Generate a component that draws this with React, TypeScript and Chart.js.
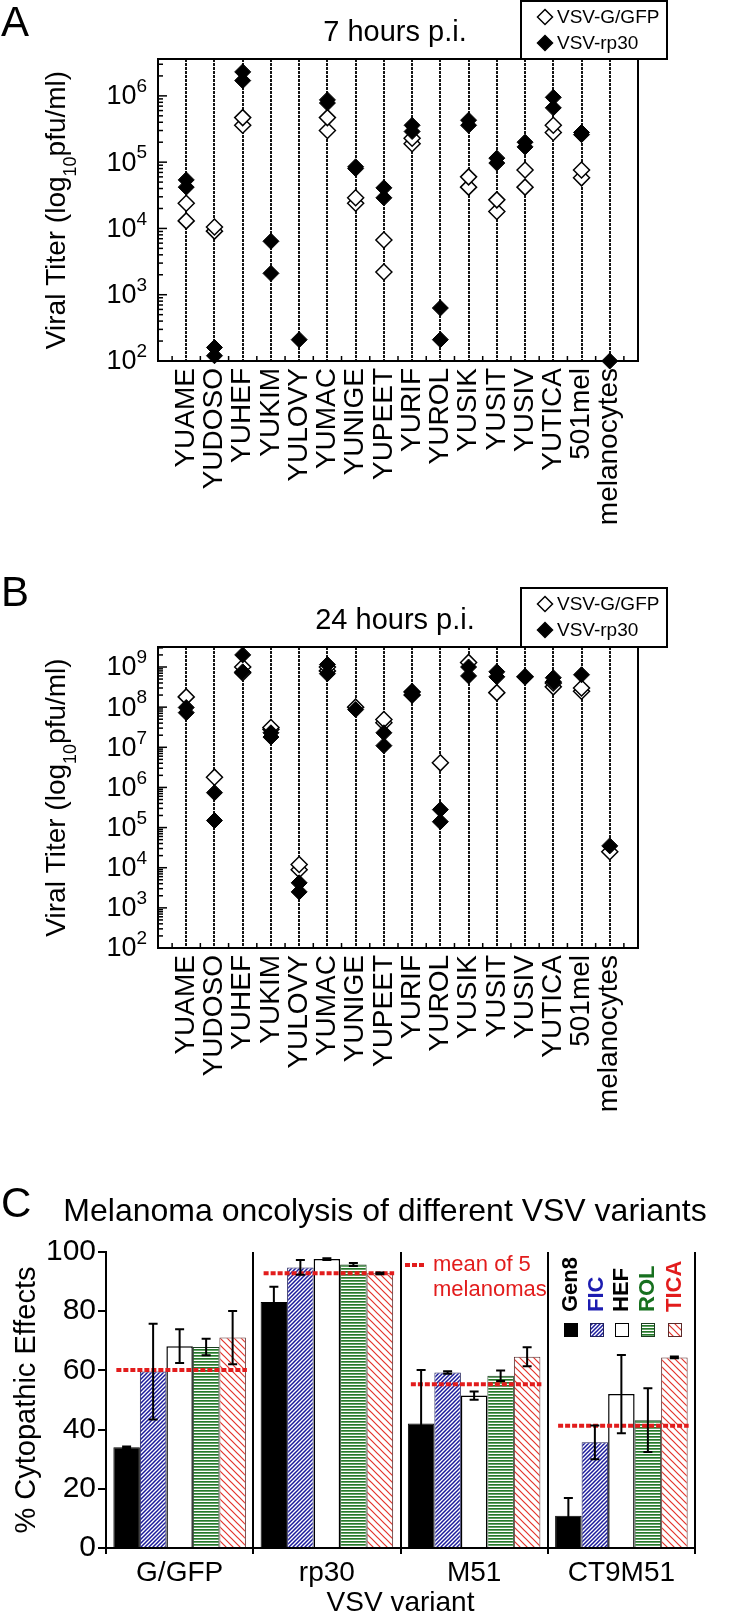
import React, { useEffect, useRef } from 'react';
import { Chart, registerables } from 'chart.js';

Chart.register(...registerables);

const FONT = '"Liberation Sans", Arial, Helvetica, sans-serif';
const RED = 'rgb(226, 28, 28)';

// ---------- Panels A & B ----------
const cellLines = ['YUAME', 'YUDOSO', 'YUHEF', 'YUKIM', 'YULOVY', 'YUMAC', 'YUNIGE', 'YUPEET', 'YURIF', 'YUROL', 'YUSIK', 'YUSIT', 'YUSIV', 'YUTICA', '501mel', 'melanocytes'];

const tickExpA = [2, 3, 4, 5, 6];
const tickExpB = [2, 3, 4, 5, 6, 7, 8, 9];

// 7 hours p.i. (two replicates per virus)
const gfp7a = [2.4e4, 1.05e4, 4.7e5, null, null, 4.7e5, 2.9e4, 6.7e3, 2.3e5, null, 6.0e4, 2.7e4, 7.6e4, 3.6e5, 7.6e4, null];
const gfp7b = [1.3e4, 9.1e3, 3.6e5, null, null, 3.0e5, 2.4e4, 2.2e3, 1.9e5, null, 4.2e4, 1.8e4, 4.2e4, 2.8e5, 5.8e4, null];
const rp7a = [5.4e4, 1.6e2, 2.3e6, 6.4e3, 2.1e2, 8.7e5, 8.5e4, 4.1e4, 3.6e5, 6.3e2, 4.3e5, 1.15e5, 2.0e5, 9.5e5, 2.8e5, 1.0e2];
const rp7b = [4.2e4, 1.2e2, 1.7e6, 2.1e3, null, 7.8e5, 8.0e4, 2.9e4, 2.9e5, 2.1e2, 3.6e5, 9.7e4, 1.7e5, 6.6e5, 2.6e5, null];

// 24 hours p.i.
const gfp24a = [1.8e8, 1.8e6, 1.0e9, 3.1e7, 1.2e4, 1.0e9, 1.0e8, 4.9e7, 2.4e8, 4.1e6, 1.3e9, 2.3e8, 5.7e8, 4.0e8, 3.0e8, 2.5e4];
const gfp24b = [null, null, 7.2e8, 2.8e7, 8.9e3, 8.0e8, null, 4.1e7, 2.0e8, null, null, null, null, 3.2e8, 2.5e8, null];
const rp24a = [9.8e7, 7.4e5, 2.0e9, 2.3e7, 4.2e3, 1.15e9, 8.7e7, 2.3e7, 2.4e8, 2.8e5, 1.0e9, 7.6e8, 5.7e8, 5.4e8, 6.4e8, 3.5e4];
const rp24b = [7.3e7, 1.5e5, 7.6e8, 1.8e7, 2.5e3, 6.8e8, null, 1.1e7, 2.0e8, 1.4e5, 6.0e8, 5.7e8, null, 4.3e8, null, null];

// ---------- Panel C ----------
const variants = ['G/GFP', 'rp30', 'M51', 'CT9M51'];
const melanomas = ['Gen8', 'FIC', 'HEF', 'ROL', 'TICA'];
const gen8 = [34.0, 83.1, 42.1, 10.9];
const fic = [59.6, 94.8, 59.3, 35.7];
const hef = [68.2, 97.6, 51.5, 52.0];
const rol = [67.9, 95.8, 58.2, 43.2];
const tica = [71.1, 92.8, 64.6, 64.4];
const gen8Err = [0.3, 5.2, 18.0, 6.0];
const ficErr = [16.2, 2.5, 0.4, 5.7];
const hefErr = [5.7, 0.3, 1.4, 13.2];
const rolErr = [2.8, 0.5, 1.8, 10.8];
const ticaErr = [9.0, 0.3, 3.2, 0.3];
const meanOf5 = [60.1, 92.8, 55.3, 41.3];
const yTicksC = [0, 20, 40, 60, 80, 100];

const legendTextColors = ['#000', '#1c1cb0', '#000', '#17701f', RED];

function diamond(ctx: CanvasRenderingContext2D, x: number, y: number, r: number, filled: boolean) {
  ctx.beginPath();
  ctx.moveTo(x, y - r);
  ctx.lineTo(x + r, y);
  ctx.lineTo(x, y + r);
  ctx.lineTo(x - r, y);
  ctx.closePath();
  ctx.fillStyle = filled ? '#000' : '#fff';
  ctx.fill();
  ctx.lineWidth = 1.5;
  ctx.strokeStyle = '#000';
  ctx.stroke();
}

type TiterProps = {
  top: number;
  height: number;
  plotTop: number;
  plotBottom: number;
  legendTop: number;
  letter: string;
  letterBase: number;
  title: string;
  maxVal: number;
  tickExp: number[];
  gfpA: (number | null)[];
  gfpB: (number | null)[];
  rpA: (number | null)[];
  rpB: (number | null)[];
};

function TiterPanel(p: TiterProps) {
  const ref = useRef<HTMLCanvasElement>(null);
  useEffect(() => {
    const canvas = ref.current!;
    const XH = 170;
    const pts = (arr: (number | null)[]) =>
      arr.map((v, i) => (v == null ? null : { x: i, y: v })).filter(Boolean) as { x: number; y: number }[];

    const overlay = {
      id: 'titerOverlay',
      beforeDatasetsDraw(chart: any) {
        const { ctx, chartArea: a, scales } = chart;
        const x = scales.x;
        ctx.save();
        ctx.strokeStyle = '#151515';
        ctx.lineWidth = 2;
        ctx.setLineDash([3, 1]);
        cellLines.forEach((_, i) => {
          const px = Math.round(x.getPixelForValue(i));
          ctx.beginPath();
          ctx.moveTo(px, a.top);
          ctx.lineTo(px, a.bottom);
          ctx.stroke();
        });
        ctx.restore();
      },
      afterDraw(chart: any) {
        const { ctx, chartArea: a, scales } = chart;
        const x = scales.x;
        const y = scales.y;
        ctx.save();
        // box
        ctx.strokeStyle = '#000';
        ctx.lineWidth = 2;
        ctx.strokeRect(a.left, a.top, a.right - a.left, a.bottom - a.top);
        // inward y ticks (major + minor)
        ctx.lineWidth = 1.5;
        const maxE = p.tickExp[p.tickExp.length - 1];
        for (let e = p.tickExp[0]; e <= maxE; e++) {
          for (let m = 1; m <= 9; m++) {
            const v = m * Math.pow(10, e);
            if (v > p.maxVal) break;
            const py = y.getPixelForValue(v);
            const len = m === 1 ? 9 : 5;
            ctx.beginPath();
            ctx.moveTo(a.left, py);
            ctx.lineTo(a.left + len, py);
            ctx.stroke();
          }
        }
        // inward x ticks at category boundaries
        for (let i = -1; i < cellLines.length; i++) {
          const px = x.getPixelForValue(i + 0.5);
          ctx.beginPath();
          ctx.moveTo(px, a.bottom);
          ctx.lineTo(px, a.bottom - 5);
          ctx.stroke();
        }
        // y tick labels 10^n
        ctx.fillStyle = '#000';
        ctx.textBaseline = 'middle';
        p.tickExp.forEach((e) => {
          const py = y.getPixelForValue(Math.pow(10, e));
          const right = a.left - 11;
          ctx.font = `19px ${FONT}`;
          const sw = ctx.measureText(String(e)).width;
          ctx.textAlign = 'left';
          ctx.fillText(String(e), right - sw, py - 9);
          ctx.font = `27px ${FONT}`;
          ctx.textAlign = 'right';
          ctx.fillText('10', right - sw, py + 1);
        });
        // y title with subscript
        ctx.save();
        ctx.translate(55, (a.top + a.bottom) / 2);
        ctx.rotate(-Math.PI / 2);
        const f1 = `28px ${FONT}`;
        const f2 = `18px ${FONT}`;
        const s1 = 'Viral Titer (log';
        const s2 = '10';
        const s3 = 'pfu/ml)';
        ctx.font = f1;
        const w1 = ctx.measureText(s1).width;
        const w3 = ctx.measureText(s3).width;
        ctx.font = f2;
        const w2 = ctx.measureText(s2).width;
        let xx = -(w1 + w2 + w3) / 2;
        ctx.textAlign = 'left';
        ctx.textBaseline = 'alphabetic';
        ctx.font = f1;
        ctx.fillText(s1, xx, 10);
        xx += w1;
        ctx.font = f2;
        ctx.fillText(s2, xx, 21);
        xx += w2;
        ctx.font = f1;
        ctx.fillText(s3, xx, 10);
        ctx.restore();
        // panel letter
        ctx.font = `42px ${FONT}`;
        ctx.textAlign = 'left';
        ctx.textBaseline = 'alphabetic';
        ctx.fillText(p.letter, 1, p.letterBase);
        // title
        ctx.font = `29px ${FONT}`;
        ctx.textAlign = 'center';
        ctx.textBaseline = 'middle';
        ctx.fillText(p.title, 395, a.top - 26);
        // legend
        const lt = p.legendTop;
        const lw = 146;
        ctx.fillStyle = '#fff';
        ctx.fillRect(521, lt, lw, a.top - lt);
        ctx.strokeStyle = '#000';
        ctx.lineWidth = 2;
        ctx.strokeRect(521, lt, lw, a.top - lt);
        diamond(ctx, 545, lt + 16, 7.5, false);
        diamond(ctx, 545, lt + 42, 7.5, true);
        ctx.fillStyle = '#000';
        ctx.font = `19px ${FONT}`;
        ctx.textAlign = 'left';
        ctx.textBaseline = 'middle';
        ctx.fillText('VSV-G/GFP', 557, lt + 17);
        ctx.fillText('VSV-rp30', 557, lt + 43);
        ctx.restore();
      },
    };

    const filled = { pointStyle: 'rectRot', pointRadius: 8, backgroundColor: '#000', borderColor: '#000', borderWidth: 1, clip: false as any };
    const open = { pointStyle: 'rectRot', pointRadius: 8, backgroundColor: '#fff', borderColor: '#000', borderWidth: 1.5, clip: false as any };

    const chart = new Chart(canvas, {
      type: 'scatter',
      data: {
        datasets: [
          { label: 'VSV-rp30', data: pts(p.rpA), ...filled },
          { label: 'VSV-rp30', data: pts(p.rpB), ...filled },
          { label: 'VSV-G/GFP', data: pts(p.gfpA), ...open },
          { label: 'VSV-G/GFP', data: pts(p.gfpB), ...open },
        ] as any,
      },
      options: {
        responsive: false,
        maintainAspectRatio: false,
        animation: false,
        devicePixelRatio: 1,
        layout: { padding: { left: 0, top: p.plotTop, right: 112, bottom: p.height - p.plotBottom - XH } },
        plugins: { legend: { display: false }, tooltip: { enabled: false }, title: { display: false } },
        scales: {
          x: {
            type: 'linear',
            min: -1,
            max: cellLines.length,
            afterBuildTicks: (s: any) => {
              s.ticks = cellLines.map((_, i) => ({ value: i }));
            },
            afterFit: (s: any) => {
              s.height = XH;
            },
            grid: { display: false, drawTicks: false },
            border: { display: false },
            ticks: {
              autoSkip: false,
              minRotation: 90,
              maxRotation: 90,
              padding: 7,
              color: '#000',
              font: { family: FONT, size: 28 },
              callback: (_v: any, i: number) => cellLines[i],
            },
          },
          y: {
            type: 'logarithmic',
            min: 100,
            max: p.maxVal,
            afterBuildTicks: (s: any) => {
              s.ticks = p.tickExp.map((e) => ({ value: Math.pow(10, e) }));
            },
            afterFit: (s: any) => {
              s.width = 158;
            },
            grid: { display: false, drawTicks: false },
            border: { display: false },
            ticks: { display: false },
          },
        },
      } as any,
      plugins: [overlay],
    });
    return () => chart.destroy();
  }, []);
  return (
    <canvas
      ref={ref}
      width={750}
      height={p.height}
      style={{ position: 'absolute', left: 0, top: p.top, width: 750, height: p.height, display: 'block' }}
    />
  );
}

function makePattern(kind: string): CanvasPattern | string {
  const c = document.createElement('canvas');
  const g = c.getContext('2d')!;
  if (kind === 'blue') {
    c.width = 4;
    c.height = 4;
    g.fillStyle = '#fff';
    g.fillRect(0, 0, 4, 4);
    g.strokeStyle = '#1c1c9c';
    g.lineWidth = 1.5;
    g.beginPath();
    g.moveTo(-1, 5);
    g.lineTo(5, -1);
    g.moveTo(-1, 1);
    g.lineTo(1, -1);
    g.moveTo(3, 5);
    g.lineTo(5, 3);
    g.stroke();
  } else if (kind === 'green') {
    c.width = 4;
    c.height = 3;
    g.fillStyle = '#fff';
    g.fillRect(0, 0, 4, 3);
    g.fillStyle = '#257a2a';
    g.fillRect(0, 0, 4, 1.7);
  } else if (kind === 'red') {
    c.width = 7;
    c.height = 7;
    g.fillStyle = '#fff';
    g.fillRect(0, 0, 7, 7);
    g.strokeStyle = '#e3342c';
    g.lineWidth = 1.2;
    g.beginPath();
    g.moveTo(-1, -1);
    g.lineTo(8, 8);
    g.moveTo(-1, 6);
    g.lineTo(1, 8);
    g.moveTo(6, -1);
    g.lineTo(8, 1);
    g.stroke();
  } else if (kind === 'black') {
    return '#000';
  } else {
    return '#fff';
  }
  return g.createPattern(c, 'repeat')!;
}

function PanelC() {
  const ref = useRef<HTMLCanvasElement>(null);
  useEffect(() => {
    const canvas = ref.current!;
    const H = 455;
    const chartTop = 92;
    const chartBottom = 388;
    const values = [gen8, fic, hef, rol, tica];
    const errs = [gen8Err, ficErr, hefErr, rolErr, ticaErr];
    const kinds = ['black', 'blue', 'white', 'green', 'red'];
    const fills = kinds.map(makePattern);
    const borders = ['#000', '#20205a', '#000', '#1b3d1f', '#5a2a2a'];
    const bw = [1, 1, 1.5, 1, 1];

    const overlay = {
      id: 'cOverlay',
      afterDatasetsDraw(chart: any) {
        const { ctx, scales } = chart;
        const y = scales.y;
        ctx.save();
        // mean lines
        ctx.strokeStyle = RED;
        ctx.lineWidth = 4;
        ctx.setLineDash([5, 2]);
        variants.forEach((_, j) => {
          const first = chart.getDatasetMeta(0).data[j];
          const last = chart.getDatasetMeta(4).data[j];
          const x1 = first.x - first.width / 2 + 3;
          const x2 = last.x + last.width / 2 + 1;
          const py = y.getPixelForValue(meanOf5[j]);
          ctx.beginPath();
          ctx.moveTo(x1, py);
          ctx.lineTo(x2, py);
          ctx.stroke();
        });
        ctx.setLineDash([]);
        // error bars
        ctx.strokeStyle = '#000';
        ctx.lineWidth = 2;
        values.forEach((vals, k) => {
          const meta = chart.getDatasetMeta(k);
          vals.forEach((v, j) => {
            const el = meta.data[j];
            const e = errs[k][j];
            const yt = y.getPixelForValue(v + e);
            const yb = y.getPixelForValue(v - e);
            const cx = el.x;
            ctx.beginPath();
            ctx.moveTo(cx, yt);
            ctx.lineTo(cx, yb);
            ctx.moveTo(cx - 4.5, yt);
            ctx.lineTo(cx + 4.5, yt);
            ctx.moveTo(cx - 4.5, yb);
            ctx.lineTo(cx + 4.5, yb);
            ctx.stroke();
          });
        });
        ctx.restore();
      },
      afterDraw(chart: any) {
        const { ctx } = chart;
        ctx.save();
        // letter & title
        ctx.fillStyle = '#000';
        ctx.font = `42px ${FONT}`;
        ctx.textAlign = 'left';
        ctx.textBaseline = 'alphabetic';
        ctx.fillText('C', 1, 57);
        ctx.font = `32px ${FONT}`;
        ctx.textAlign = 'center';
        ctx.fillText('Melanoma oncolysis of different VSV variants', 385, 61);
        // mean legend
        ctx.strokeStyle = RED;
        ctx.lineWidth = 4;
        ctx.setLineDash([5, 2]);
        ctx.beginPath();
        ctx.moveTo(405, 105);
        ctx.lineTo(426, 105);
        ctx.stroke();
        ctx.setLineDash([]);
        ctx.fillStyle = RED;
        ctx.font = `22px ${FONT}`;
        ctx.textAlign = 'left';
        ctx.textBaseline = 'middle';
        ctx.fillText('mean of 5', 433, 105);
        ctx.fillText('melanomas', 433, 130);
        // melanoma legend
        const lx = [571, 597, 622, 648, 675];
        melanomas.forEach((name, k) => {
          ctx.save();
          ctx.translate(lx[k], 152);
          ctx.rotate(-Math.PI / 2);
          ctx.fillStyle = legendTextColors[k];
          ctx.font = `bold 22px ${FONT}`;
          ctx.textAlign = 'left';
          ctx.textBaseline = 'middle';
          ctx.fillText(name, 0, 0);
          ctx.restore();
          ctx.fillStyle = fills[k] as any;
          ctx.fillRect(lx[k] - 7, 163, 14, 14);
          ctx.strokeStyle = borders[k];
          ctx.lineWidth = 1;
          ctx.strokeRect(lx[k] - 7 + 0.5, 163.5, 13, 13);
        });
        ctx.restore();
      },
    };

    const chart = new Chart(canvas, {
      type: 'bar',
      data: {
        labels: variants,
        datasets: melanomas.map((name, k) => ({
          label: name,
          data: values[k],
          backgroundColor: fills[k],
          borderColor: borders[k],
          borderWidth: bw[k],
          categoryPercentage: 0.9,
          barPercentage: 1.0,
        })) as any,
      },
      options: {
        responsive: false,
        maintainAspectRatio: false,
        animation: false,
        devicePixelRatio: 1,
        layout: { padding: { left: 0, top: chartTop, right: 55, bottom: 0 } },
        plugins: { legend: { display: false }, tooltip: { enabled: false }, title: { display: false } },
        scales: {
          x: {
            type: 'category',
            offset: true,
            afterFit: (s: any) => {
              s.height = H - chartBottom;
            },
            grid: { offset: true, color: '#000', lineWidth: 2, drawTicks: true, tickLength: 6, drawOnChartArea: true },
            border: { display: true, color: '#000', width: 2 },
            ticks: { color: '#000', padding: 2, maxRotation: 0, font: { family: FONT, size: 28 } },
            title: {
              display: true,
              text: 'VSV variant',
              color: '#000',
              font: { family: FONT, size: 28, lineHeight: 1 },
              padding: { top: 0, bottom: -2 },
            },
          },
          y: {
            min: 0,
            max: 100,
            afterBuildTicks: (s: any) => {
              s.ticks = yTicksC.map((v) => ({ value: v }));
            },
            afterFit: (s: any) => {
              s.width = 106;
            },
            grid: { drawOnChartArea: false, drawTicks: true, tickLength: 8, color: '#000', lineWidth: 2 },
            border: { display: true, color: '#000', width: 2 },
            ticks: { color: '#000', padding: 2, font: { family: FONT, size: 30 } },
            title: {
              display: true,
              text: '% Cytopathic Effects',
              color: '#000',
              font: { family: FONT, size: 29 },
              padding: { top: 10, bottom: 0 },
            },
          },
        },
      } as any,
      plugins: [overlay],
    });
    return () => chart.destroy();
  }, []);
  return (
    <canvas
      ref={ref}
      width={750}
      height={455}
      style={{ position: 'absolute', left: 0, top: 1160, width: 750, height: 455, display: 'block' }}
    />
  );
}

export default function App() {
  return (
    <div style={{ position: 'absolute', left: 0, top: 0, width: 750, height: 1615, background: '#fff', overflow: 'hidden' }}>
      <TiterPanel
        top={0}
        height={560}
        plotTop={59}
        plotBottom={361}
        legendTop={1}
        letter="A"
        letterBase={36}
        title="7 hours p.i."
        maxVal={3.6e6}
        tickExp={tickExpA}
        gfpA={gfp7a}
        gfpB={gfp7b}
        rpA={rp7a}
        rpB={rp7b}
      />
      <TiterPanel
        top={560}
        height={600}
        plotTop={87}
        plotBottom={388}
        legendTop={28}
        letter="B"
        letterBase={46}
        title="24 hours p.i."
        maxVal={3.15e9}
        tickExp={tickExpB}
        gfpA={gfp24a}
        gfpB={gfp24b}
        rpA={rp24a}
        rpB={rp24b}
      />
      <PanelC />
    </div>
  );
}
